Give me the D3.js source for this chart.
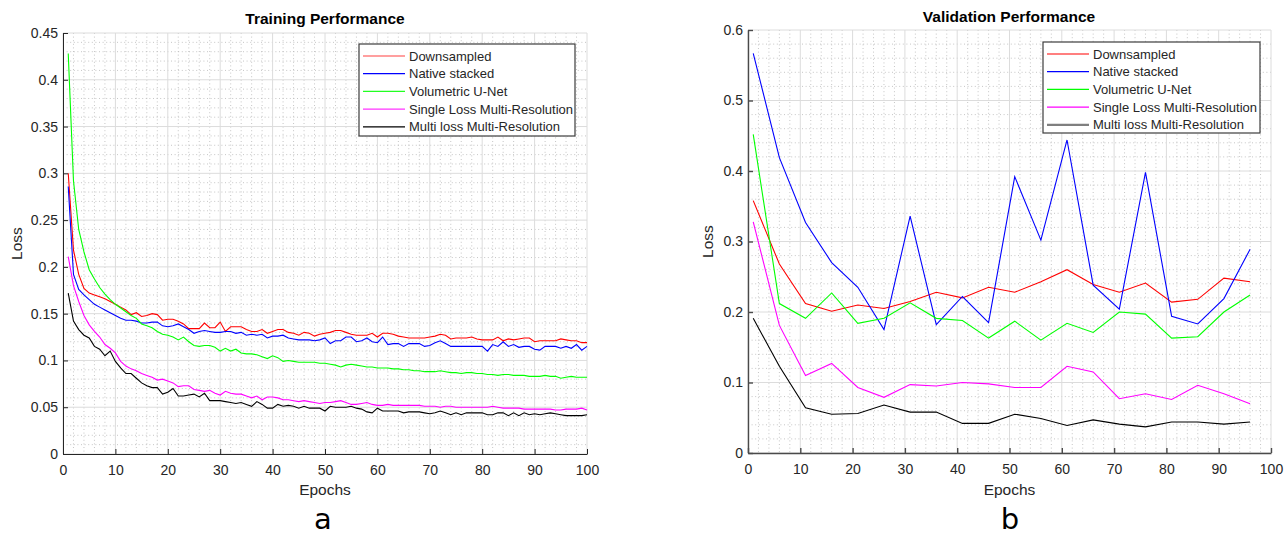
<!DOCTYPE html>
<html>
<head>
<meta charset="utf-8">
<script src="https://cdn.jsdelivr.net/npm/d3@7"></script>
<style>
  body { margin: 0; background: #fff; }
  svg text { font-family: "Liberation Sans", Arial, sans-serif; fill: #262626; }
</style>
</head>
<body>
<svg id="chart" width="1284" height="537"></svg>
<script>
// ---- data ----
const seriesNames = ["Downsampled", "Native stacked", "Volumetric U-Net",
  "Single Loss Multi-Resolution", "Multi loss Multi-Resolution"];
const seriesColors = ["#ff0000", "#0000ff", "#00ff00", "#ff00ff", "#000000"];

const trainEpochs = d3.range(1, 101);
const trainDown = [0.300, 0.218, 0.192, 0.177, 0.172, 0.170, 0.168, 0.166, 0.163, 0.160,
  0.157, 0.154, 0.149, 0.151, 0.147, 0.148, 0.150, 0.149, 0.143, 0.144,
  0.144, 0.142, 0.139, 0.134, 0.134, 0.134, 0.140, 0.135, 0.135, 0.141,
  0.131, 0.136, 0.136, 0.136, 0.133, 0.131, 0.131, 0.133, 0.129, 0.131,
  0.133, 0.133, 0.130, 0.129, 0.127, 0.130, 0.129, 0.126, 0.128,
  0.129, 0.130, 0.132, 0.132, 0.130, 0.128, 0.127, 0.127, 0.127, 0.129,
  0.125, 0.129, 0.129, 0.128, 0.126, 0.125, 0.124, 0.124, 0.124, 0.124,
  0.125, 0.126, 0.128, 0.127, 0.123, 0.124, 0.124, 0.124, 0.125, 0.123,
  0.122, 0.122, 0.122, 0.125, 0.121, 0.123, 0.122, 0.123, 0.124, 0.124,
  0.120, 0.121, 0.121, 0.121, 0.121, 0.123, 0.122, 0.121, 0.121, 0.119, 0.119];
const trainNative = [0.286, 0.192, 0.176, 0.170, 0.165, 0.160, 0.157, 0.154, 0.151, 0.148,
  0.145, 0.143, 0.143, 0.142, 0.140, 0.140, 0.141, 0.141, 0.137, 0.136,
  0.137, 0.139, 0.136, 0.133, 0.129, 0.131, 0.132, 0.131, 0.130, 0.130,
  0.131, 0.131, 0.129, 0.130, 0.127, 0.128, 0.127, 0.128, 0.124, 0.126,
  0.126, 0.127, 0.124, 0.123, 0.122, 0.122, 0.122, 0.121, 0.122,
  0.124, 0.118, 0.121, 0.121, 0.125, 0.125, 0.120, 0.121, 0.124, 0.120,
  0.119, 0.125, 0.117, 0.118, 0.118, 0.115, 0.118, 0.118, 0.118, 0.115,
  0.116, 0.119, 0.121, 0.118, 0.115, 0.115, 0.115, 0.115, 0.115, 0.115,
  0.115, 0.110, 0.117, 0.115, 0.120, 0.115, 0.117, 0.114, 0.115, 0.115,
  0.112, 0.111, 0.115, 0.115, 0.115, 0.113, 0.115, 0.113, 0.117, 0.111, 0.115];
const trainUnet = [0.428, 0.292, 0.240, 0.216, 0.197, 0.187, 0.178, 0.171, 0.165, 0.160,
  0.156, 0.152, 0.148, 0.145, 0.139, 0.137, 0.135, 0.131, 0.128, 0.127,
  0.125, 0.122, 0.125, 0.120, 0.116, 0.115, 0.116, 0.116, 0.114, 0.110,
  0.113, 0.110, 0.112, 0.108, 0.107, 0.107, 0.106, 0.104, 0.102, 0.105,
  0.103, 0.099, 0.100, 0.099, 0.098, 0.098, 0.098, 0.098, 0.097,
  0.097, 0.096, 0.095, 0.093, 0.095, 0.096, 0.095, 0.094, 0.093, 0.093,
  0.092, 0.092, 0.092, 0.091, 0.091, 0.090, 0.090, 0.089, 0.089, 0.088,
  0.088, 0.088, 0.089, 0.088, 0.087, 0.087, 0.086, 0.087, 0.087, 0.086,
  0.086, 0.085, 0.085, 0.084, 0.085, 0.085, 0.084, 0.084, 0.084, 0.083,
  0.083, 0.083, 0.084, 0.083, 0.083, 0.081, 0.082, 0.083, 0.082, 0.082, 0.082];
const trainSingle = [0.211, 0.180, 0.163, 0.148, 0.138, 0.131, 0.125, 0.117, 0.113, 0.108,
  0.099, 0.094, 0.091, 0.089, 0.086, 0.084, 0.082, 0.079, 0.080, 0.078,
  0.076, 0.072, 0.073, 0.073, 0.069, 0.068, 0.067, 0.068, 0.065, 0.063,
  0.067, 0.065, 0.064, 0.064, 0.062, 0.060, 0.062, 0.058, 0.061, 0.061,
  0.060, 0.058, 0.058, 0.057, 0.056, 0.057, 0.056, 0.055, 0.054,
  0.055, 0.055, 0.056, 0.057, 0.055, 0.053, 0.053, 0.054, 0.055, 0.053,
  0.052, 0.052, 0.053, 0.052, 0.052, 0.052, 0.052, 0.052, 0.052, 0.051,
  0.051, 0.051, 0.050, 0.051, 0.051, 0.050, 0.050, 0.050, 0.050, 0.050,
  0.050, 0.050, 0.051, 0.050, 0.049, 0.049, 0.049, 0.049, 0.048, 0.048,
  0.048, 0.048, 0.048, 0.048, 0.047, 0.047, 0.048, 0.048, 0.048, 0.049, 0.047];
const trainMulti = [0.172, 0.142, 0.133, 0.127, 0.124, 0.115, 0.112, 0.105, 0.110, 0.099,
  0.092, 0.086, 0.086, 0.081, 0.076, 0.073, 0.071, 0.071, 0.064, 0.066,
  0.070, 0.062, 0.062, 0.063, 0.064, 0.061, 0.065, 0.057, 0.057, 0.057,
  0.056, 0.055, 0.054, 0.055, 0.053, 0.051, 0.056, 0.053, 0.049, 0.049,
  0.053, 0.051, 0.052, 0.051, 0.049, 0.051, 0.049, 0.049, 0.049,
  0.046, 0.051, 0.050, 0.050, 0.050, 0.051, 0.049, 0.048, 0.045, 0.044,
  0.049, 0.046, 0.046, 0.046, 0.046, 0.044, 0.045, 0.045, 0.045, 0.044,
  0.043, 0.044, 0.046, 0.044, 0.042, 0.044, 0.042, 0.044, 0.044, 0.044,
  0.044, 0.042, 0.042, 0.044, 0.044, 0.041, 0.044, 0.041, 0.044, 0.042,
  0.043, 0.042, 0.043, 0.044, 0.043, 0.042, 0.041, 0.041, 0.041, 0.041, 0.042];

const valEpochs = [1, 6, 11, 16, 21, 26, 31, 36, 41, 46, 51, 56, 61, 66, 71, 76, 81, 86, 91, 96];
const valDown   = [0.358, 0.268, 0.212, 0.201, 0.210, 0.205, 0.215, 0.228, 0.220, 0.235,
  0.228, 0.243, 0.260, 0.239, 0.228, 0.241, 0.214, 0.218, 0.248, 0.243];
const valNative = [0.567, 0.419, 0.327, 0.270, 0.235, 0.175, 0.336, 0.182, 0.222, 0.185,
  0.392, 0.302, 0.444, 0.238, 0.204, 0.398, 0.194, 0.183, 0.219, 0.289];
const valUnet   = [0.452, 0.212, 0.191, 0.227, 0.184, 0.191, 0.213, 0.191, 0.188, 0.163,
  0.187, 0.160, 0.184, 0.171, 0.200, 0.197, 0.163, 0.165, 0.200, 0.224];
const valSingle = [0.328, 0.181, 0.110, 0.127, 0.093, 0.079, 0.097, 0.095, 0.100, 0.098,
  0.093, 0.093, 0.123, 0.115, 0.077, 0.084, 0.076, 0.096, 0.084, 0.070];
const valMulti  = [0.191, 0.123, 0.064, 0.055, 0.056, 0.068, 0.058, 0.058, 0.042, 0.042,
  0.055, 0.049, 0.039, 0.047, 0.041, 0.037, 0.044, 0.044, 0.041, 0.044];

const xTicks = [0, 10, 20, 30, 40, 50, 60, 70, 80, 90, 100];
const trainYTicks = [0, 0.05, 0.1, 0.15, 0.2, 0.25, 0.3, 0.35, 0.4, 0.45];
const trainYLabels = ["0", "0.05", "0.1", "0.15", "0.2", "0.25", "0.3", "0.35", "0.4", "0.45"];
const valYTicks = [0, 0.1, 0.2, 0.3, 0.4, 0.5, 0.6];
const valYLabels = ["0", "0.1", "0.2", "0.3", "0.4", "0.5", "0.6"];

const svg = d3.select("#chart");

function drawPanel(p) {
  const g = svg.append("g");
  const x = d3.scaleLinear().domain([0, 100]).range([p.left, p.right]);
  const y = d3.scaleLinear().domain([0, p.ymax]).range([p.bottom, p.top]);

  // minor grid (dotted)
  const xMinor = d3.range(0, 101, 2).filter(d => d % 10 !== 0);
  const yMinor = d3.range(0, Math.round(p.ymax / p.yMinorStep) + 1)
    .map(i => +(i * p.yMinorStep).toFixed(4))
    .filter(v => !p.yTicks.some(t => Math.abs(t - v) < 1e-6));
  const minor = g.append("g").attr("stroke", "#b8b8b8").attr("stroke-width", 0.8)
    .attr("stroke-dasharray", "1,2.6");
  minor.selectAll(".vx").data(xMinor).join("line")
    .attr("x1", d => x(d)).attr("x2", d => x(d)).attr("y1", p.top).attr("y2", p.bottom);
  minor.selectAll(".hy").data(yMinor).join("line")
    .attr("y1", d => y(d)).attr("y2", d => y(d)).attr("x1", p.left).attr("x2", p.right);

  // major grid
  const major = g.append("g").attr("stroke", "#dcdcdc").attr("stroke-width", 1);
  major.selectAll(".vx").data(xTicks).join("line")
    .attr("x1", d => x(d)).attr("x2", d => x(d)).attr("y1", p.top).attr("y2", p.bottom);
  major.selectAll(".hy").data(p.yTicks).join("line")
    .attr("y1", d => y(d)).attr("y2", d => y(d)).attr("x1", p.left).attr("x2", p.right);

  // series
  const line = d3.line().x(d => x(d[0])).y(d => y(d[1]));
  p.series.forEach((vals, i) => {
    g.append("path")
      .datum(p.epochs.map((e, j) => [e, vals[j]]))
      .attr("fill", "none")
      .attr("stroke", seriesColors[i])
      .attr("stroke-width", 1.1)
      .attr("d", line);
  });

  // axes
  const xAxis = g.append("g").attr("transform", `translate(0,${p.bottom})`)
    .call(d3.axisBottom(x).tickValues(xTicks).tickSizeInner(-5).tickSizeOuter(0).tickPadding(11));
  const yAxis = g.append("g").attr("transform", `translate(${p.left},0)`)
    .call(d3.axisLeft(y).tickValues(p.yTicks).tickFormat((d, i) => p.yLabels[i])
      .tickSizeInner(-5).tickSizeOuter(0).tickPadding(5));
  [xAxis, yAxis].forEach(a => {
    a.selectAll("path, line").attr("stroke", p.axisColor).attr("stroke-width", p.axisWidth);
    a.selectAll("text").attr("font-size", 14).attr("font-family", "Liberation Sans, Arial, sans-serif")
      .attr("fill", "#262626");
  });

  // titles and labels
  g.append("text").attr("x", p.titleX).attr("y", p.titleY).attr("text-anchor", "middle")
    .attr("font-size", 15.5).attr("font-weight", "bold").style("fill", "#000").text(p.title);
  g.append("text").attr("x", (p.left + p.right) / 2).attr("y", 495).attr("text-anchor", "middle")
    .attr("font-size", 15.5).text("Epochs");
  g.append("text").attr("transform", `translate(${p.yLabelX},${(p.top + p.bottom) / 2}) rotate(-90)`)
    .attr("text-anchor", "middle").attr("font-size", 15.5).text("Loss");
  g.append("text").attr("x", p.letterX).attr("y", 529).attr("text-anchor", "middle")
    .attr("font-size", 29).style("font-family", "DejaVu Sans, sans-serif").style("fill", "#000")
    .text(p.letter);

  // legend
  const lg = g.append("g");
  lg.append("rect").attr("x", p.legend.x).attr("y", p.legend.y)
    .attr("width", p.legend.w).attr("height", p.legend.h)
    .attr("fill", "#fff").attr("stroke", "#3c3c3c").attr("stroke-width", 1.2);
  seriesNames.forEach((name, i) => {
    const cy = p.legend.y + 12 + i * 17.7;
    lg.append("line").attr("x1", p.legend.x + 4).attr("x2", p.legend.x + 46)
      .attr("y1", cy).attr("y2", cy)
      .attr("stroke", p.legendColors[i]).attr("stroke-width", p.legendWidths[i]);
    lg.append("text").attr("x", p.legend.x + 50).attr("y", cy).attr("dy", "0.36em")
      .attr("font-size", 13).text(name);
  });
}

drawPanel({
  left: 63, right: 587, top: 33, bottom: 454, ymax: 0.45, yMinorStep: 0.01,
  yTicks: trainYTicks, yLabels: trainYLabels, epochs: trainEpochs,
  series: [trainDown, trainNative, trainUnet, trainSingle, trainMulti],
  title: "Training Performance", titleX: 325, titleY: 24, yLabelX: 22, letter: "a", letterX: 323,
  axisColor: "#262626", axisWidth: 1,
  legend: { x: 359, y: 44, w: 216, h: 92 },
  legendColors: ["#ff4040", "#0000ff", "#22ff22", "#ff33ff", "#000000"],
  legendWidths: [1.2, 1.2, 1.2, 1.2, 1.2]
});

drawPanel({
  left: 748, right: 1271, top: 30, bottom: 453, ymax: 0.6, yMinorStep: 0.02,
  yTicks: valYTicks, yLabels: valYLabels, epochs: valEpochs,
  series: [valDown, valNative, valUnet, valSingle, valMulti],
  title: "Validation Performance", titleX: 1009, titleY: 22, yLabelX: 713, letter: "b", letterX: 1010,
  axisColor: "#4a4a4a", axisWidth: 1.4,
  legend: { x: 1043, y: 42, w: 217, h: 91 },
  legendColors: ["#ff0000", "#0000ff", "#00ff00", "#ff00ff", "#7f7f7f"],
  legendWidths: [1.2, 1.2, 1.2, 1.2, 2.2]
});
</script>
</body>
</html>
